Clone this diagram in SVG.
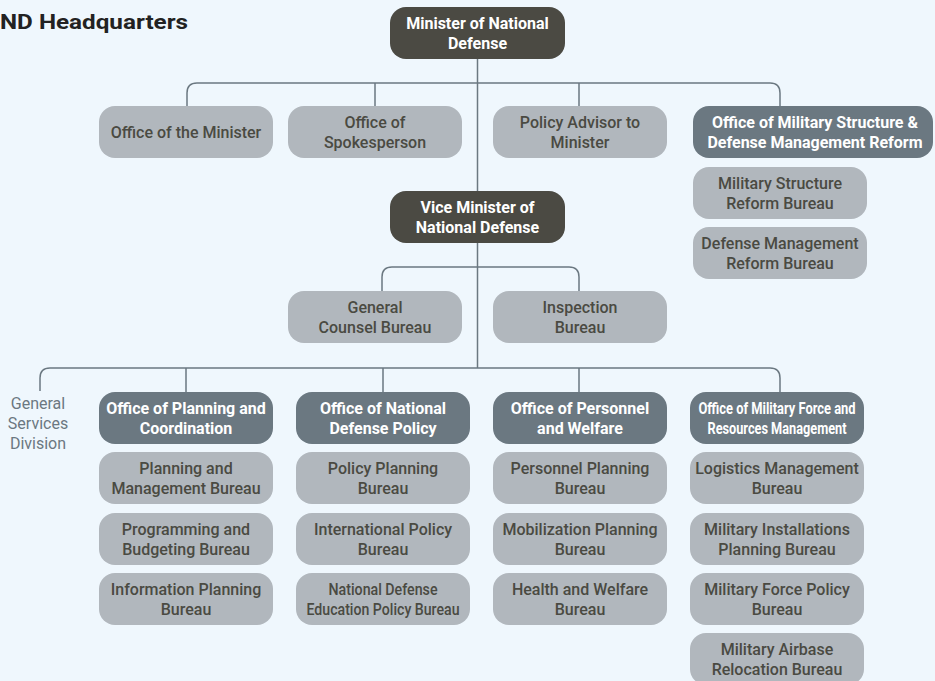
<svg xmlns="http://www.w3.org/2000/svg" width="935" height="681" viewBox="0 0 935 681">
<style>
text{font-family:Roboto,"Liberation Sans",sans-serif;font-size:16px;text-anchor:middle}
.lt rect{fill:#b1b7bd}
.lt text{fill:#4a4a42;font-weight:500}
.dk rect{fill:#6b7881}
.dk text{fill:#ffffff;font-weight:700}
.bk rect{fill:#4b4a43}
.bk text{fill:#ffffff;font-weight:700}
.con{fill:none;stroke:#6b7881;stroke-width:1.5}
.gs{fill:#6b7881}
</style>
<rect x="0" y="0" width="935" height="681" fill="#eff7fd"/>
<text x="0" y="29" textLength="188" lengthAdjust="spacingAndGlyphs" style="font-size:21px;font-weight:700;fill:#222222;text-anchor:start">ND Headquarters</text>
<g id="connectors" class="con">
<path d="M477.5,59 V368"/>
<path d="M187,106 V93 Q187,83 197,83 H770 Q780,83 780,93 V106"/>
<path d="M375,83 V106 M579,83 V106"/>
<path d="M382,291 V277 Q382,267 392,267 H569 Q579,267 579,277 V291"/>
<path d="M40,391 V378 Q40,368 50,368 H770 Q780,368 780,378 V392"/>
<path d="M186,368 V392 M383,368 V392 M579,368 V392"/>
</g>
<g id="minister" class="bk"><rect x="390" y="7" width="175" height="52" rx="16"/><text x="477.5" y="28.5">Minister of National</text><text x="477.5" y="48.5">Defense</text></g>
<g id="office-minister" class="lt"><rect x="99" y="106" width="174" height="52" rx="16"/><text x="186" y="137.5">Office of the Minister</text></g>
<g id="spokesperson" class="lt"><rect x="288" y="106" width="174" height="52" rx="16"/><text x="375" y="127.5">Office of</text><text x="375" y="147.5">Spokesperson</text></g>
<g id="policy-advisor" class="lt"><rect x="493" y="106" width="174" height="52" rx="16"/><text x="580" y="127.5">Policy Advisor to</text><text x="580" y="147.5">Minister</text></g>
<g id="office-reform" class="dk"><rect x="693" y="106" width="240" height="52" rx="16"/><text x="815" y="127.5">Office of Military Structure &amp;</text><text x="815" y="147.5">Defense Management Reform</text></g>
<g id="mil-structure" class="lt"><rect x="693" y="167" width="174" height="52" rx="16"/><text x="780" y="188.5">Military Structure</text><text x="780" y="208.5">Reform Bureau</text></g>
<g id="def-mgmt" class="lt"><rect x="693" y="227" width="174" height="52" rx="16"/><text x="780" y="248.5">Defense Management</text><text x="780" y="268.5">Reform Bureau</text></g>
<g id="vice-minister" class="bk"><rect x="390" y="191" width="175" height="52" rx="16"/><text x="477.5" y="212.5">Vice Minister of</text><text x="477.5" y="232.5">National Defense</text></g>
<g id="general-counsel" class="lt"><rect x="288" y="291" width="174" height="52" rx="16"/><text x="375" y="312.5">General</text><text x="375" y="332.5">Counsel Bureau</text></g>
<g id="inspection" class="lt"><rect x="493" y="291" width="174" height="52" rx="16"/><text x="580" y="312.5">Inspection</text><text x="580" y="332.5">Bureau</text></g>
<g id="general-services"><text class="gs" x="38" y="408.5">General</text><text class="gs" x="38" y="428.5">Services</text><text class="gs" x="38" y="448.5">Division</text></g>
<g id="office-planning" class="dk"><rect x="99" y="392" width="174" height="52" rx="16"/><text x="186" y="413.5">Office of Planning and</text><text x="186" y="433.5">Coordination</text></g>
<g id="office-policy" class="dk"><rect x="296" y="392" width="174" height="52" rx="16"/><text x="383" y="413.5">Office of National</text><text x="383" y="433.5">Defense Policy</text></g>
<g id="office-personnel" class="dk"><rect x="493" y="392" width="174" height="52" rx="16"/><text x="580" y="413.5">Office of Personnel</text><text x="580" y="433.5">and Welfare</text></g>
<g id="office-force" class="dk"><rect x="690" y="392" width="174" height="52" rx="16"/><text x="777" y="413.5" textLength="157" lengthAdjust="spacingAndGlyphs">Office of Military Force and</text><text x="777" y="433.5" textLength="139" lengthAdjust="spacingAndGlyphs">Resources Management</text></g>
<g id="planning-mgmt" class="lt"><rect x="99" y="452" width="174" height="52" rx="16"/><text x="186" y="473.5">Planning and</text><text x="186" y="493.5">Management Bureau</text></g>
<g id="programming" class="lt"><rect x="99" y="513" width="174" height="52" rx="16"/><text x="186" y="534.5">Programming and</text><text x="186" y="554.5">Budgeting Bureau</text></g>
<g id="info-planning" class="lt"><rect x="99" y="573" width="174" height="52" rx="16"/><text x="186" y="594.5">Information Planning</text><text x="186" y="614.5">Bureau</text></g>
<g id="policy-planning" class="lt"><rect x="296" y="452" width="174" height="52" rx="16"/><text x="383" y="473.5">Policy Planning</text><text x="383" y="493.5">Bureau</text></g>
<g id="intl-policy" class="lt"><rect x="296" y="513" width="174" height="52" rx="16"/><text x="383" y="534.5">International Policy</text><text x="383" y="554.5">Bureau</text></g>
<g id="education-policy" class="lt"><rect x="296" y="573" width="174" height="52" rx="16"/><text x="383" y="594.5" textLength="109" lengthAdjust="spacingAndGlyphs">National Defense</text><text x="383" y="614.5" textLength="153" lengthAdjust="spacingAndGlyphs">Education Policy Bureau</text></g>
<g id="personnel-planning" class="lt"><rect x="493" y="452" width="174" height="52" rx="16"/><text x="580" y="473.5">Personnel Planning</text><text x="580" y="493.5">Bureau</text></g>
<g id="mobilization" class="lt"><rect x="493" y="513" width="174" height="52" rx="16"/><text x="580" y="534.5">Mobilization Planning</text><text x="580" y="554.5">Bureau</text></g>
<g id="health-welfare" class="lt"><rect x="493" y="573" width="174" height="52" rx="16"/><text x="580" y="594.5">Health and Welfare</text><text x="580" y="614.5">Bureau</text></g>
<g id="logistics" class="lt"><rect x="690" y="452" width="174" height="52" rx="16"/><text x="777" y="473.5">Logistics Management</text><text x="777" y="493.5">Bureau</text></g>
<g id="installations" class="lt"><rect x="690" y="513" width="174" height="52" rx="16"/><text x="777" y="534.5">Military Installations</text><text x="777" y="554.5">Planning Bureau</text></g>
<g id="force-policy" class="lt"><rect x="690" y="573" width="174" height="52" rx="16"/><text x="777" y="594.5">Military Force Policy</text><text x="777" y="614.5">Bureau</text></g>
<g id="airbase" class="lt"><rect x="690" y="633" width="174" height="52" rx="16"/><text x="777" y="654.5">Military Airbase</text><text x="777" y="674.5">Relocation Bureau</text></g>
</svg>
